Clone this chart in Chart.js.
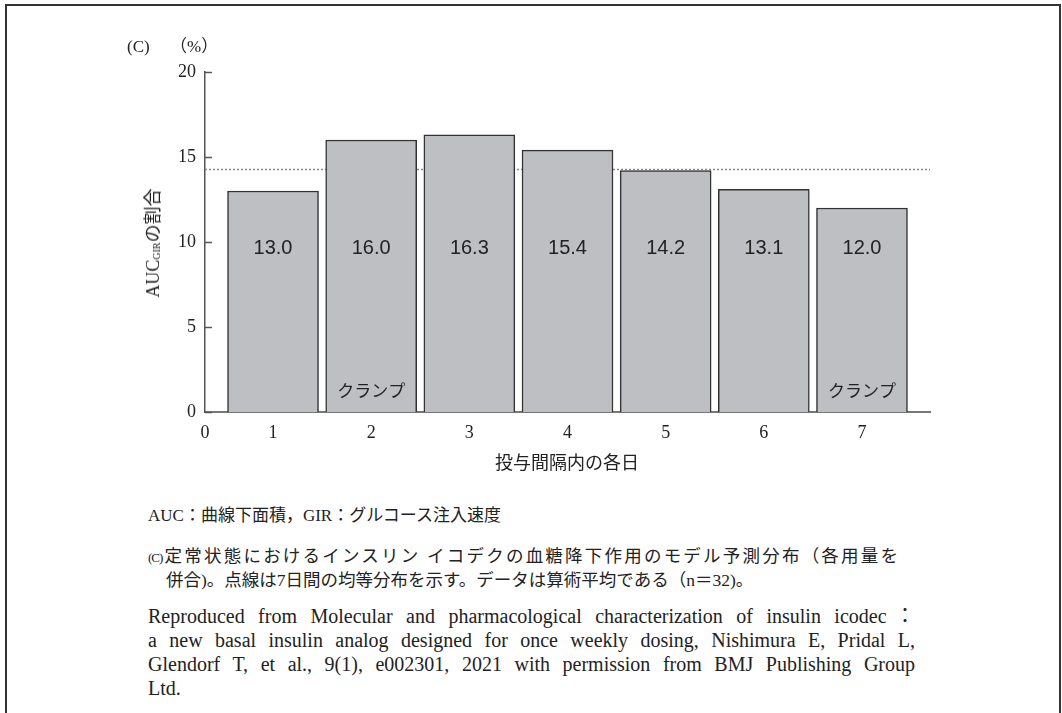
<!DOCTYPE html>
<html lang="ja">
<head>
  <meta charset="UTF-8" />
  <title>AUC GIR の割合</title>
  <script src="https://cdn.jsdelivr.net/npm/chart.js"></script>
  <style>
    body {
      margin: 0;
      width: 1062px;
      height: 713px;
      overflow: hidden;
      position: relative;
      background: #fff;
      color: #222;
      font-family: "Liberation Serif", "Noto Sans CJK JP", serif;
    }
    .frame {
      position: absolute;
      left: 5px;
      top: 4px;
      width: 1052px;
      height: 760px;
      border: 2px solid #333;
    }
    #chart {
      position: absolute;
      left: 0;
      top: 0;
    }
    .lbl {
      position: absolute;
      font-size: 17px;
      white-space: nowrap;
      line-height: 1;
    }
    .ytitle {
      position: absolute;
      left: 153px;
      top: 243px;
      transform: translate(-50%, -50%) rotate(-90deg);
      font-size: 18px;
      white-space: nowrap;
      line-height: 1;
    }
    .ytitle sub {
      font-size: 10px;
      vertical-align: -1px;
    }
    .xtitle {
      position: absolute;
      left: 567px;
      top: 463px;
      transform: translate(-50%, -50%);
      font-size: 18px;
      white-space: nowrap;
      line-height: 1;
    }
    .note {
      position: absolute;
      left: 148px;
      font-size: 17.5px;
      line-height: 24px;
      white-space: nowrap;
    }
    .note.just {
      width: 750px;
      text-align: justify;
      text-align-last: justify;
    }
    .ref {
      position: absolute;
      left: 148px;
      top: 604px;
      width: 767px;
      font-size: 20px;
      line-height: 24px;
    }
    .ref span {
      display: block;
      white-space: nowrap;
      text-align: justify;
      text-align-last: justify;
    }
    .ref span.last {
      text-align-last: left;
    }
    .pc { font-size: 13px; letter-spacing: -1px; }
  </style>
</head>
<body>
  <div class="frame"></div>
  <canvas id="chart" width="1062" height="460"></canvas>

  <div class="lbl" style="left:127px; top:38px;">(C)</div>
  <div class="lbl" style="left:170px; top:38px;">（%）</div>
  <div class="ytitle">AUC<sub>GIR</sub>の割合</div>
  <div class="xtitle">投与間隔内の各日</div>

  <div class="note" style="top:504px; font-size:17px;">AUC：曲線下面積，GIR：グルコース注入速度</div>
  <div class="note just" style="top:544px;"><span class="pc">(C)</span>定常状態におけるインスリン イコデクの血糖降下作用のモデル予測分布（各用量を</div>
  <div class="note" style="top:568px; left:166px;">併合)。点線は7日間の均等分布を示す。データは算術平均である（n＝32)。</div>
  <div class="ref">
    <span>Reproduced from Molecular and pharmacological characterization of insulin icodec：</span>
    <span>a new basal insulin analog designed for once weekly dosing, Nishimura E, Pridal L,</span>
    <span>Glendorf T, et al., 9(1), e002301, 2021 with permission from BMJ Publishing Group</span>
    <span class="last">Ltd.</span>
  </div>

  <script>
    // data
    const days = [1, 2, 3, 4, 5, 6, 7];
    const shares = [13.0, 16.0, 16.3, 15.4, 14.2, 13.1, 12.0];
    const clampDays = [2, 7];
    const yTicks = [0, 5, 10, 15, 20];
    const uniformShare = 14.3; // dotted line: even split over 7 days

    const extras = {
      id: 'extras',
      beforeDatasetsDraw(chart) {
        const { ctx, chartArea: a, scales: { y } } = chart;
        const yy = Math.round(y.getPixelForValue(uniformShare)) + 0.5;
        ctx.save();
        ctx.strokeStyle = '#8a8a8a';
        ctx.lineWidth = 1.5;
        ctx.setLineDash([2, 2]);
        ctx.beginPath();
        ctx.moveTo(a.left, yy);
        ctx.lineTo(a.right, yy);
        ctx.stroke();
        ctx.restore();
      },
      afterDatasetsDraw(chart) {
        const { ctx, chartArea: a, scales: { y } } = chart;
        ctx.save();
        // short tick marks pointing into the plot
        ctx.strokeStyle = '#555';
        ctx.lineWidth = 1.5;
        yTicks.forEach(v => {
          const p = Math.round(y.getPixelForValue(v)) + 0.5;
          ctx.beginPath();
          ctx.moveTo(a.left, p);
          ctx.lineTo(a.left + 7, p);
          ctx.stroke();
        });
        // value and clamp labels inside bars
        const meta = chart.getDatasetMeta(0);
        ctx.fillStyle = '#222';
        ctx.textAlign = 'center';
        ctx.textBaseline = 'middle';
        meta.data.forEach((bar, i) => {
          ctx.font = '20px "Liberation Sans", Arial, sans-serif';
          ctx.fillText(shares[i].toFixed(1), bar.x, y.getPixelForValue(9.6));
          if (clampDays.includes(days[i])) {
            ctx.font = '17px "Noto Sans CJK JP", sans-serif';
            ctx.fillText('クランプ', bar.x, y.getPixelForValue(1.25));
          }
        });
        ctx.restore();
      }
    };

    const ctx = document.getElementById('chart').getContext('2d');
    new Chart(ctx, {
      type: 'bar',
      data: {
        datasets: [{
          data: days.map((d, i) => ({ x: d, y: shares[i] })),
          backgroundColor: '#bebfc3',
          borderColor: '#333',
          borderWidth: 1.5,
          barThickness: 91
        }]
      },
      options: {
        responsive: false,
        animation: false,
        layout: { padding: { left: 0, top: 72, right: 132, bottom: 0 } },
        plugins: { legend: { display: false }, tooltip: { enabled: false } },
        scales: {
          x: {
            type: 'linear',
            offset: false,
            min: 0.307,
            max: 7.693,
            grid: { display: false, drawTicks: false },
            border: { color: '#777', width: 2 },
            afterBuildTicks: s => { s.ticks = [s.min, ...days].map(v => ({ value: v })); },
            afterFit: s => { s.height = 48; },
            ticks: {
              autoSkip: false,
              maxRotation: 0,
              padding: 10,
              color: '#222',
              font: { family: 'Liberation Serif', size: 18 },
              callback: v => (v < 1 ? '0' : String(v))
            }
          },
          y: {
            min: 0,
            max: 20,
            grid: { display: false, drawTicks: false },
            border: { color: '#555', width: 1.5 },
            afterBuildTicks: s => { s.ticks = yTicks.map(v => ({ value: v })); },
            afterFit: s => { s.width = 205; },
            ticks: {
              padding: 9,
              color: '#222',
              font: { family: 'Liberation Serif', size: 18 }
            }
          }
        }
      },
      plugins: [extras]
    });
  </script>
</body>
</html>
